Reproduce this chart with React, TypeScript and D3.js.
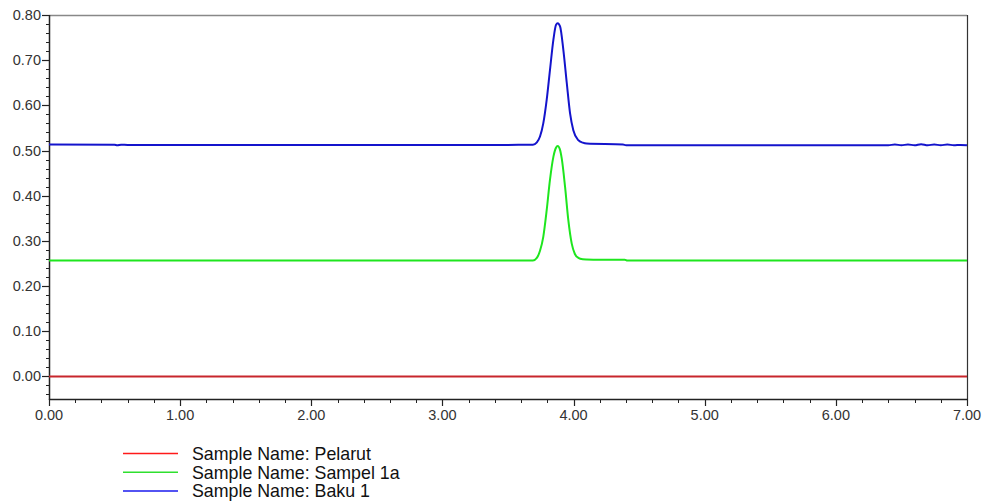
import React from "react";
import * as d3 from "d3";

// Retention time (min) and absorbance readings
const redTime = [0, 7];
const redValue = [0.0, 0.0];

const greenTime = [0, 1.0, 2.0, 3.0, 3.5, 3.69, 3.72, 3.744, 3.769, 3.795, 3.82, 3.846, 3.866, 3.879, 3.895, 3.91, 3.935, 3.96, 3.986, 4.01, 4.036, 4.07, 4.1, 4.2, 4.39, 4.41, 5.0, 6.0, 7.0];
const greenValue = [0.2565, 0.2565, 0.2565, 0.2565, 0.2565, 0.2568, 0.2625, 0.278, 0.309, 0.368, 0.435, 0.486, 0.506, 0.51, 0.503, 0.482, 0.42, 0.346, 0.294, 0.271, 0.2625, 0.2595, 0.259, 0.2585, 0.2585, 0.2565, 0.2565, 0.2565, 0.2565];

const blueTime = [0, 0.5, 0.52, 0.55, 0.6, 1.0, 1.5, 2.0, 2.5, 2.6, 3.0, 3.5, 3.69, 3.72, 3.744, 3.769, 3.795, 3.82, 3.846, 3.866, 3.879, 3.897, 3.922, 3.948, 3.973, 3.998, 4.036, 4.07, 4.1, 4.377, 4.4, 5.0, 5.5, 6.0, 6.4, 6.45, 6.5, 6.55, 6.6, 6.65, 6.7, 6.75, 6.8, 6.85, 6.9, 6.95, 7.0];
const blueValue = [0.5135, 0.513, 0.5115, 0.513, 0.5125, 0.5125, 0.512, 0.512, 0.512, 0.5125, 0.5125, 0.5125, 0.5128, 0.518, 0.531, 0.56, 0.612, 0.678, 0.745, 0.778, 0.782, 0.775, 0.723, 0.65, 0.583, 0.545, 0.523, 0.5175, 0.5155, 0.5135, 0.5118, 0.5115, 0.5115, 0.5115, 0.5115, 0.5135, 0.5115, 0.5135, 0.5115, 0.514, 0.5115, 0.5135, 0.5115, 0.5135, 0.5115, 0.5125, 0.5115];

const xTickValues = [0, 1, 2, 3, 4, 5, 6, 7];
const yTickValues = [0, 0.1, 0.2, 0.3, 0.4, 0.5, 0.6, 0.7, 0.8];

const legendLabels = ["Sample Name: Pelarut", "Sample Name: Sampel 1a", "Sample Name: Baku 1"];
const legendColors = ["#ff1a1a", "#2ee02e", "#1a1aee"];
const lineColors = ["#c8262c", "#1ee61e", "#1414cc"];

export default function App() {
  const W = 983, H = 502;
  const left = 49, right = 967, top = 15, bottom = 399;
  const x = d3.scaleLinear().domain([0, 7]).range([left, right]);
  const y = d3.scaleLinear().domain([-0.05, 0.8]).range([bottom, top]);

  const mk = (t: number[], v: number[]) =>
    d3.line<number>().curve(d3.curveMonotoneX).x((_, i) => x(t[i])).y((d) => y(d))(v) || "";

  const series = [
    { path: mk(redTime, redValue), color: lineColors[0] },
    { path: mk(greenTime, greenValue), color: lineColors[1] },
    { path: mk(blueTime, blueValue), color: lineColors[2] },
  ];

  const xMinor = d3.range(0, 7.0001, 0.2).map((v) => +v.toFixed(2));
  const yMinor = d3.range(-0.04, 0.8001, 0.02).map((v) => +v.toFixed(2));

  const font = "'Liberation Sans', Arial, sans-serif";
  const axisColor = "#222";

  return (
    <svg width={W} height={H} style={{ position: "absolute", left: 0, top: 0, background: "#fff" }}>
      <rect x={0} y={0} width={W} height={H} fill="#fff" />
      {/* frame */}
      <line x1={left} x2={right} y1={top + 0.5} y2={top + 0.5} stroke="#888" strokeWidth={1.5} />
      <line x1={right + 0.5} x2={right + 0.5} y1={top} y2={bottom} stroke="#333" strokeWidth={1.2} />
      <line x1={left} x2={right + 1} y1={bottom + 0.5} y2={bottom + 0.5} stroke={axisColor} strokeWidth={1.5} />
      <line x1={left + 0.5} x2={left + 0.5} y1={top} y2={bottom + 1} stroke={axisColor} strokeWidth={1.5} />

      {/* y minor ticks */}
      {yMinor.map((v) => (
        <line key={"ym" + v} x1={left - 3} x2={left} y1={Math.round(y(v)) + 0.5} y2={Math.round(y(v)) + 0.5} stroke={axisColor} strokeWidth={1} />
      ))}
      {yTickValues.map((v) => (
        <g key={"yt" + v}>
          <line x1={left - 7} x2={left} y1={Math.round(y(v)) + 0.5} y2={Math.round(y(v)) + 0.5} stroke={axisColor} strokeWidth={1.2} />
          <text x={41} y={y(v)} dy="0.35em" textAnchor="end" fontFamily={font} fontSize={14.5} fill="#333">
            {v.toFixed(2)}
          </text>
        </g>
      ))}

      {/* x minor ticks */}
      {xMinor.map((v) => (
        <line key={"xm" + v} x1={Math.round(x(v)) + 0.5} x2={Math.round(x(v)) + 0.5} y1={bottom} y2={bottom + 4} stroke={axisColor} strokeWidth={1} />
      ))}
      {xTickValues.map((v) => (
        <g key={"xt" + v}>
          <line x1={Math.round(x(v)) + 0.5} x2={Math.round(x(v)) + 0.5} y1={bottom} y2={bottom + 7} stroke={axisColor} strokeWidth={1.2} />
          <text x={x(v)} y={420} textAnchor="middle" fontFamily={font} fontSize={14.5} fill="#333">
            {v.toFixed(2)}
          </text>
        </g>
      ))}

      {/* traces */}
      {series.map((s, i) => (
        <path key={"s" + i} d={s.path} fill="none" stroke={s.color} strokeWidth={2} strokeLinejoin="round" />
      ))}

      {/* legend */}
      {legendLabels.map((lab, i) => (
        <g key={"lg" + i} transform={`translate(0, ${453.5 + i * 18.8})`}>
          <line x1={123} x2={178} y1={0} y2={0} stroke={legendColors[i]} strokeWidth={1.5} />
          <text x={192} y={0} dy="0.35em" fontFamily={font} fontSize={17.8} fill="#111">
            {lab}
          </text>
        </g>
      ))}
    </svg>
  );
}
